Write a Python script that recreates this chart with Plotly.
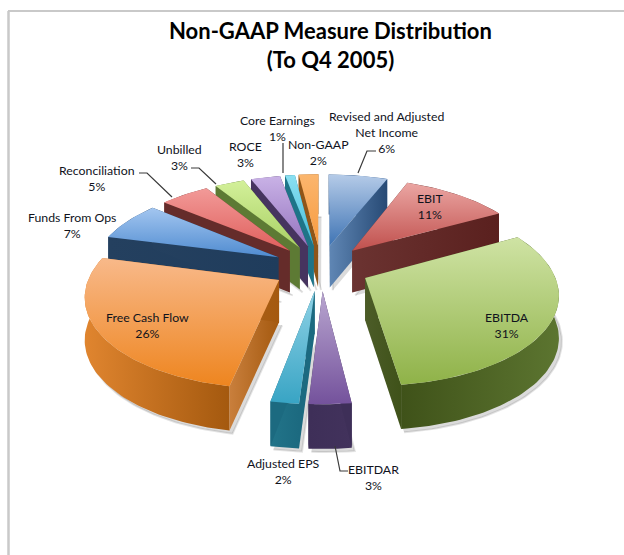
import numpy as np
import plotly.graph_objects as go

# ---- data ----
categories = ["Revised and Adjusted Net Income", "EBIT", "EBITDA", "EBITDAR", "Adjusted EPS",
              "Free Cash Flow", "Funds From Ops", "Reconciliation", "Unbilled", "ROCE",
              "Core Earnings", "Non-GAAP"]
values = [6, 11, 31, 3, 2, 26, 7, 5, 3, 3, 1, 2]
title_lines = ["Non-GAAP Measure Distribution", "(To Q4 2005)"]

# ---- style: top light, top dark, radial wall, rim wall dark, rim wall light ----
styles = [
    ("#b5cbe8", "#3f74b4", "#5f86b4", "#274a75", "#3a649a"),
    ("#eba6a3", "#c0504d", "#6b3331", "#5a201e", "#6e3735"),
    ("#cfe3a4", "#8fb248", "#4c5c28", "#3f5219", "#5c7530"),
    ("#b9a6d0", "#74529c", "#3e2f58", "#3e2f58", "#42325c"),
    ("#8fd2e6", "#38a4c4", "#1c6a80", "#1c6a80", "#227489"),
    ("#f8b98a", "#ee851f", "#c97f3c", "#a4590f", "#e0852f"),
    ("#a3c6f0", "#4f8bd0", "#24405f", "#1f3c5c", "#2b4a70"),
    ("#f29a98", "#df5f5c", "#652c2a", "#652c2a", "#6e302e"),
    ("#d3f09a", "#a9d064", "#5d7a34", "#5d7a34", "#64823a"),
    ("#c9b2e6", "#9574bf", "#46345f", "#46345f", "#4e3a68"),
    ("#8be0f2", "#45bcd6", "#1e7488", "#1e7488", "#24808f"),
    ("#fbb66e", "#f79a3e", "#8f5518", "#8f5518", "#9a5c1b"),
]

# ---- projection of the tilted, exploded pie ----
CX, CY, A, B, K, DEPTH, EXPLODE = 321, 267.5, 187, 88, 0.15, 42, 0.26


def project(gx, gz, down=0.0):
    s = 1 / (1 + K * gz)
    return CX + A * gx * s, CY - B * gz * s + down * s ** 0.3


fig = go.Figure()


def face(xs, ys, first, last, kind, name):
    fig.add_trace(go.Scatter(
        x=list(xs), y=list(ys), mode="lines", fill="toself",
        line=dict(width=0), name=name, hoverinfo="name", showlegend=False,
        fillgradient=dict(type=kind, colorscale=[[0, first], [1, last]]),
    ))


total = sum(values)
edges = np.cumsum([0] + values) / total * 2 * np.pi
slices = []
for i, name in enumerate(categories):
    t0, t1 = edges[i], edges[i + 1]
    mid = (t0 + t1) / 2
    ax, az = EXPLODE * np.sin(mid), EXPLODE * np.cos(mid)
    th = np.linspace(t0, t1, max(6, int((t1 - t0) * 40)))
    slices.append((az, i, name, ax, th))

# paint from the back of the pie to the front
for az, i, name, ax, th in sorted(slices, key=lambda s: -s[0]):
    top_l, top_d, radial, rim_d, rim_l = styles[i]
    gx = ax + np.sin(th)
    gz = az + np.cos(th)
    # soft shadow of the whole slice
    sx, sy = project(np.r_[ax, gx], np.r_[az, gz], DEPTH + 3)
    fig.add_trace(go.Scatter(x=list(sx + 3), y=list(sy), mode="lines", fill="toself",
                             line=dict(width=2, color="rgba(90,90,90,0.16)"),
                             fillcolor="rgba(90,90,90,0.22)", hoverinfo="skip", showlegend=False))
    # outer rim
    x_up, y_up = project(gx, gz)
    x_dn, y_dn = project(gx, gz, DEPTH)
    face(np.r_[x_up, x_dn[::-1]], np.r_[y_up, y_dn[::-1]],
         rim_d if x_up.mean() > CX else rim_l, rim_l if x_up.mean() > CX else rim_d,
         "horizontal", name)
    # two cut faces
    for k in (0, -1):
        ex, ez = gx[k], gz[k]
        px = [ax, ex, ex, ax]
        pz = [az, ez, ez, az]
        pd = [0, 0, DEPTH, DEPTH]
        x_f, y_f = zip(*[project(a, b, c) for a, b, c in zip(px, pz, pd)])
        face(x_f, y_f, radial, rim_d, "horizontal", name)
    # top surface (gradient runs from the bottom of the screen upward)
    x_t, y_t = project(np.r_[ax, gx], np.r_[az, gz])
    face(x_t, y_t, top_d, top_l, "vertical", name)

# ---- labels, placed as in the picture ----
FONT = "Lato"
label_text = [
    ("Revised and Adjusted<br>Net Income<br>6%", 386, 132),
    ("EBIT<br>11%", 430, 206),
    ("EBITDA<br>31%", 507, 325),
    ("EBITDAR<br>3%", 373, 477),
    ("Adjusted EPS<br>2%", 283, 471),
    ("Free Cash Flow<br>26%", 147, 325),
    ("Funds From Ops<br>7%", 72, 225),
    ("Reconciliation<br>5%", 97, 178),
    ("Unbilled<br>3%", 179, 157),
    ("ROCE<br>3%", 245, 154),
    ("Core Earnings<br>1%", 277, 128),
    ("Non-GAAP<br>2%", 318, 152),
]
annotations = [dict(x=x, y=y, text=t, showarrow=False, xref="x", yref="y",
                    font=dict(family=FONT, size=12.3, color="#10131c"), align="center")
               for t, x, y in label_text]
annotations.append(dict(x=330, y=45, xref="x", yref="y", showarrow=False,
                        text="<b>" + title_lines[0] + "</b><br><b>" + title_lines[1] + "</b>",
                        font=dict(family=FONT, size=22, color="#000000"), align="center"))

leaders = [
    ([358, 367, 376], [173, 151, 151]),
    ([335, 340, 348], [446, 471, 471]),
    ([139, 147, 172], [173, 173, 197]),
    ([191, 199, 216], [168, 168, 184]),
    ([283, 283], [143, 173]),
]
for lx, ly in leaders:
    fig.add_trace(go.Scatter(x=lx, y=ly, mode="lines", line=dict(color="#3a3a3a", width=1.2),
                             hoverinfo="skip", showlegend=False))

fig.update_layout(
    width=624, height=555, margin=dict(l=0, r=0, t=0, b=0),
    paper_bgcolor="white", plot_bgcolor="white", showlegend=False,
    xaxis=dict(range=[0, 624], visible=False, fixedrange=True),
    yaxis=dict(range=[555, 0], visible=False, fixedrange=True),
    annotations=annotations,
    shapes=[
        dict(type="line", x0=8.5, x1=8.5, y0=11, y1=555, xref="x", yref="y",
             line=dict(color="#c9c9c9", width=2.5)),
        dict(type="line", x0=8, x1=624, y0=11, y1=11, xref="x", yref="y",
             line=dict(color="#c9c9c9", width=2)),
    ],
)
fig.write_html("out.html", config=dict(displayModeBar=False),
               post_script="document.body.style.margin='0';document.body.style.overflow='hidden';")
